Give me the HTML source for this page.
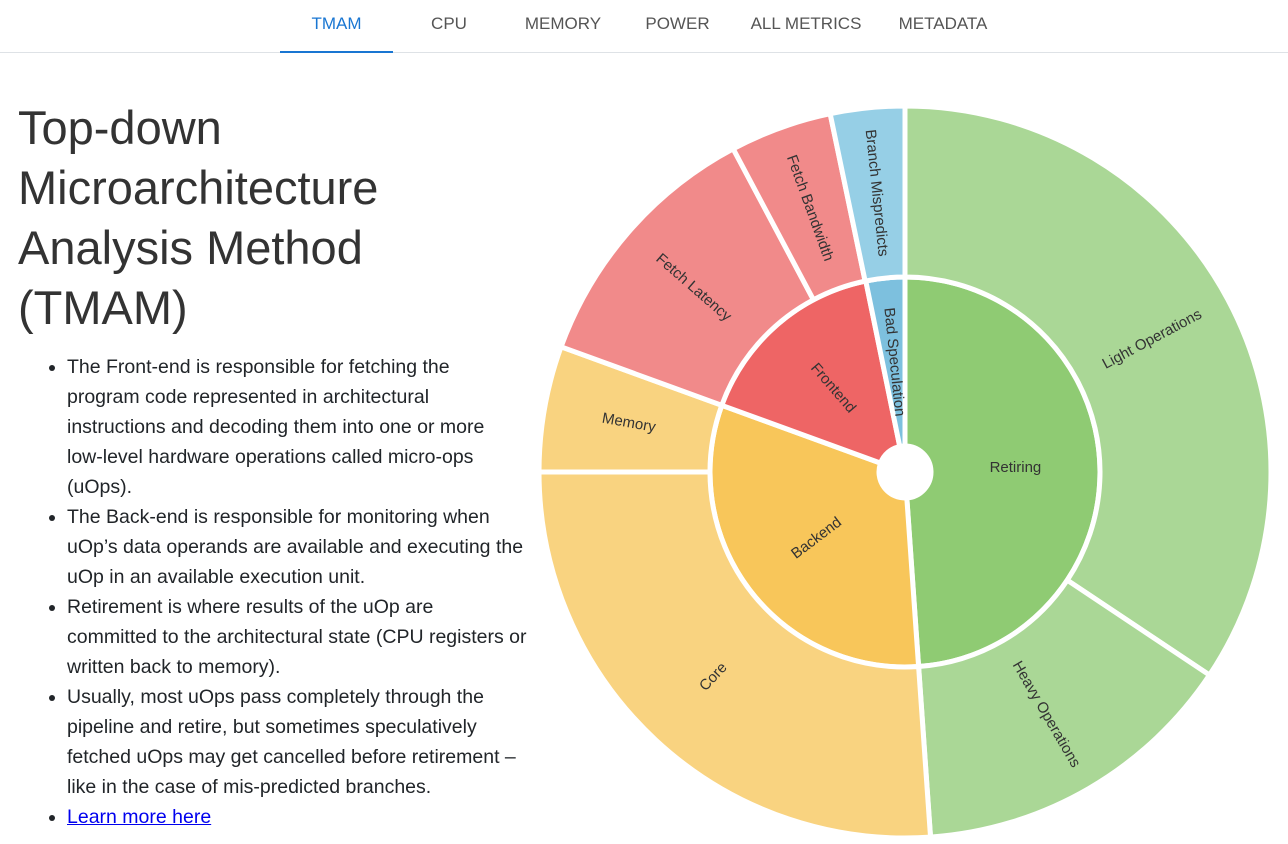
<!DOCTYPE html>
<html><head><meta charset="utf-8"><style>
body{margin:0;width:1288px;height:844px;overflow:hidden;background:#fff;font-family:"Liberation Sans","DejaVu Sans",sans-serif;color:#212529;position:relative}
.nav{position:absolute;top:0;left:0;width:1288px;height:52px;border-bottom:1px solid #dee2e6}
.nav span{position:absolute;top:14px;font-size:17px;color:#555;text-align:center}
.nav .act{color:#1976d2;border-bottom:2px solid #1976d2;height:37px;top:14px}
h1{position:absolute;left:18px;top:98px;margin:0;font-weight:400;font-size:47px;line-height:60px;color:#333}
ul{position:absolute;left:25px;top:352px;margin:0;padding-left:42px;width:480px;font-size:19.5px;line-height:30px;white-space:nowrap}
a{color:#0000ee}
svg{position:absolute;left:0;top:0}
</style></head><body>
<div class="nav">
<span class="act" style="left:280px;width:113px">TMAM</span>
<span style="left:420px;width:58px">CPU</span>
<span style="left:520px;width:86px">MEMORY</span>
<span style="left:640px;width:75px">POWER</span>
<span style="left:748px;width:116px">ALL METRICS</span>
<span style="left:892px;width:102px">METADATA</span>
</div>
<h1>Top-down<br>Microarchitecture<br>Analysis Method<br>(TMAM)</h1>
<ul>
<li>The Front-end is responsible for fetching the<br>program code represented in architectural<br>instructions and decoding them into one or more<br>low-level hardware operations called micro-ops<br>(uOps).</li>
<li>The Back-end is responsible for monitoring when<br>uOp’s data operands are available and executing the<br>uOp in an available execution unit.</li>
<li>Retirement is where results of the uOp are<br>committed to the architectural state (CPU registers or<br>written back to memory).</li>
<li>Usually, most uOps pass completely through the<br>pipeline and retire, but sometimes speculatively<br>fetched uOps may get cancelled before retirement –<br>like in the case of mis-predicted branches.</li>
<li><a href="#">Learn more here</a></li>
</ul>
<svg id="s" width="1288" height="844"></svg>
<script>
var cx=905,cy=472,NS="http://www.w3.org/2000/svg",s=document.getElementById('s');
function pt(r,a){a=a*Math.PI/180;return [cx+r*Math.sin(a),cy-r*Math.cos(a)];}
function arc(r0,r1,a0,a1,col,label){
 var p=pt(r1,a0),q=pt(r1,a1),u=pt(r0,a1),v=pt(r0,a0),L=(a1-a0)>180?1:0;
 var d="M"+p+" A"+r1+","+r1+" 0 "+L+" 1 "+q+" L"+u+" A"+r0+","+r0+" 0 "+L+" 0 "+v+"Z";
 var e=document.createElementNS(NS,'path');e.setAttribute('d',d);e.setAttribute('fill',col);
 e.setAttribute('stroke','#fff');e.setAttribute('stroke-width','5');e.setAttribute('stroke-linejoin','round');s.appendChild(e);
 var m=(a0+a1)/2,c=pt((r0+r1)/2,m),rot=m-90;if(m>180)rot-=180;if(label=='Retiring')rot=0;
 var t=document.createElementNS(NS,'text');t.setAttribute('x',c[0]);t.setAttribute('y',c[1]);
 t.setAttribute('text-anchor','middle');t.setAttribute('dominant-baseline','middle');
 t.setAttribute('font-size','15');t.setAttribute('fill','#333');t.setAttribute('font-family','Liberation Sans, DejaVu Sans, sans-serif');
 t.setAttribute('transform','rotate('+rot+' '+c[0]+' '+c[1]+')');t.textContent=label;s.appendChild(t);
}
var r0=26,r1=195,r2=366;
arc(r0,r1,0,176,'#8fcb73','Retiring');
arc(r0,r1,176,290,'#f8c65a','Backend');
arc(r0,r1,290,348.4,'#ee6565','Frontend');
arc(r0,r1,348.4,360,'#7dc0de','Bad Speculation');
arc(r1,r2,0,123.7,'#aad796','Light Operations');
arc(r1,r2,123.7,176,'#aad796','Heavy Operations');
arc(r1,r2,176,270,'#f9d380','Core');
arc(r1,r2,270,290,'#f9d380','Memory');
arc(r1,r2,290,332,'#f18a8a','Fetch Latency');
arc(r1,r2,332,348.2,'#f18a8a','Fetch Bandwidth');
arc(r1,r2,348.2,360,'#96cfe6','Branch Mispredicts');
</script>
</body></html>
